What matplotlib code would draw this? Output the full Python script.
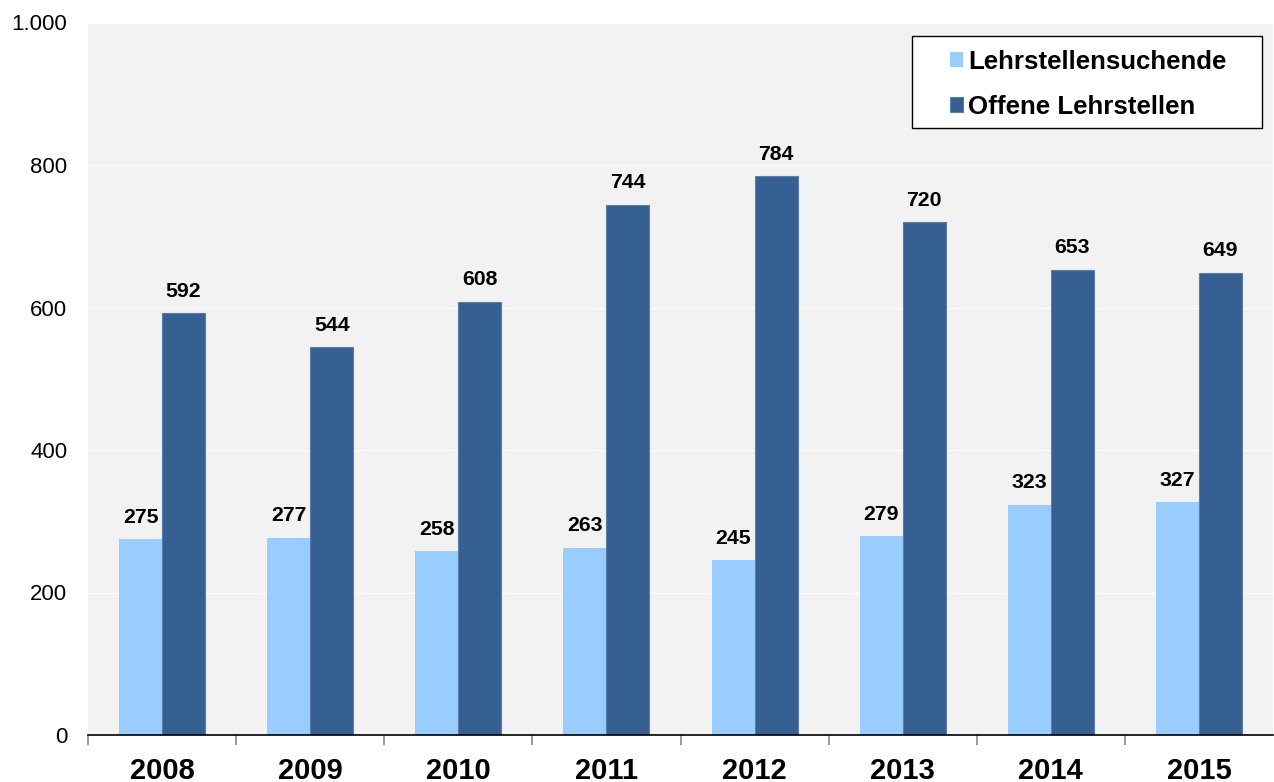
import numpy as np
import matplotlib
matplotlib.use('Agg')
from matplotlib import pyplot as plt
from matplotlib.patches import Rectangle

years = ['2008', '2009', '2010', '2011', '2012', '2013', '2014', '2015']
suchende = [275, 277, 258, 263, 245, 279, 323, 327]
offene = [592, 544, 608, 744, 784, 720, 653, 649]
y_ticks = [0, 200, 400, 600, 800, 1000]
y_labels = ['0', '200', '400', '600', '800', '1.000']

LIGHT = '#99ccff'
DARK = '#366092'


def main():
    plt.rcParams['font.family'] = ['Liberation Sans', 'DejaVu Sans']

    fig = plt.figure(figsize=(12.74, 7.82), dpi=100)
    ax = fig.add_axes([88 / 1274, 47 / 782, 1185 / 1274, 712.5 / 782])
    ax.set_facecolor('#f2f2f2')

    x = np.arange(len(years))
    w = 0.29
    b1 = ax.bar(x - w / 2, suchende, w, color=LIGHT, label='Lehrstellensuchende', zorder=2)
    b2 = ax.bar(x + w / 2, offene, w, color=DARK, edgecolor='#5a7fae', linewidth=0.8,
                label='Offene Lehrstellen', zorder=2)

    for bars in (b1, b2):
        ax.bar_label(bars, padding=9, fontsize=15.3, fontweight='bold')

    ax.set_xlim(-0.5, len(years) - 0.5)
    ax.set_ylim(0, 1000)
    ax.set_yticks(y_ticks)
    ax.set_yticklabels(y_labels, fontsize=16)
    ax.tick_params(axis='y', length=0, pad=15)

    # category labels centred, tick marks on the boundaries
    ax.set_xticks(x)
    ax.set_xticklabels(years, fontsize=21, fontweight='bold')
    ax.set_xticks(np.arange(len(years)) - 0.5, minor=True)
    ax.tick_params(axis='x', which='major', length=0, pad=15.5)
    ax.tick_params(axis='x', which='minor', length=7, width=1.2, color='#888888')

    ax.yaxis.grid(True, color='white', linewidth=1)
    ax.set_axisbelow(True)
    for s in ('top', 'right', 'left'):
        ax.spines[s].set_visible(False)
    ax.spines['bottom'].set_linewidth(1.2)

    # legend box drawn separately so it can be wider than its entries
    ax.add_patch(Rectangle((0.6954, 0.852), 0.2954, 0.1291, transform=ax.transAxes,
                           facecolor='white', edgecolor='black', linewidth=1, zorder=4))
    leg = ax.legend(loc='upper left', bbox_to_anchor=(0.7274, 0.9614),
                    prop={'size': 18.6, 'weight': 'bold'}, frameon=False,
                    handlelength=0.5, handleheight=0.5, handletextpad=0.2,
                    borderpad=0, labelspacing=0.81, borderaxespad=0)
    leg.set_zorder(5)

    fig.savefig('out.png', dpi=100)


if __name__ == '__main__':
    main()
